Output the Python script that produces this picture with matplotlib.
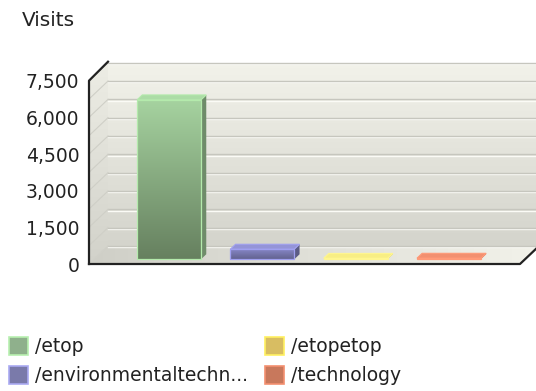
import matplotlib
matplotlib.use("Agg")
import matplotlib.pyplot as plt
import numpy as np
from matplotlib.colors import LinearSegmentedColormap
from matplotlib.patches import Polygon, Rectangle
from matplotlib.ticker import FuncFormatter

pages = ["/etop", "/environmentaltechn...", "/etopetop", "/technology"]
visits = [6520, 410, 35, 40]
y_ticks = [0, 1500, 3000, 4500, 6000, 7500]
grid_step = 750

# front-top, front-bottom, side, top, edge
bar_colors = [
    ("#a6d3a0", "#66805f", "#6f8c6a", "#acdca6", "#b4eaac"),
    ("#8a8acc", "#62628f", "#5b5b85", "#9494d8", "#a0a0f0"),
    ("#f8ec80", "#e6d66a", "#d8c860", "#f8ee84", "#fff690"),
    ("#f08a6a", "#e07858", "#c86a50", "#f29070", "#ff9a78"),
]
legend_fill = ["#8fb08c", "#7a7aaa", "#d8bd62", "#c8785c"]
legend_edge = ["#b8f0b0", "#aaaaf2", "#fff060", "#f49070"]

W, H = 536, 391
fig = plt.figure(figsize=(W / 100, H / 100), dpi=100)
fig.patch.set_facecolor("white")
ax = fig.add_axes([89 / W, (H - 264) / H, (520 - 89) / W, 183.3 / H])
ax.set_facecolor("none")
for s in ax.spines.values():
    s.set_visible(False)

XMIN, XMAX = -0.804, 3.816
YMAX = y_ticks[-1]
ax.set_xlim(XMIN, XMAX)
ax.set_ylim(0, YMAX)
ax.set_autoscale_on(False)

# pixel size of one data unit, used for the pseudo-3D depth offset
p0 = ax.transData.transform((0, 0))
p1 = ax.transData.transform((1, 1))
ppx, ppy = p1[0] - p0[0], p1[1] - p0[1]
DX, DY = 19 / ppx, 18 / ppy


def P(x, y, d):
    return (x + d * DX, y + d * DY)


def grad_poly(pts, c_lo, c_hi, horizontal=False, z=1):
    poly = Polygon(pts, closed=True, facecolor="none", edgecolor="none",
                   clip_on=False, zorder=z)
    ax.add_patch(poly)
    xs, ys = zip(*pts)
    g = np.linspace(0, 1, 256)
    arr = g.reshape(1, -1) if horizontal else g.reshape(-1, 1)
    cmap = LinearSegmentedColormap.from_list("g", [c_lo, c_hi])
    im = ax.imshow(arr, cmap=cmap, extent=(min(xs), max(xs), min(ys), max(ys)),
                   origin="lower", aspect="auto", interpolation="bilinear",
                   zorder=z)
    im.set_clip_box(fig.bbox)
    im.set_clip_path(poly)
    return poly


# back wall, left wall, floor
grad_poly([P(XMIN, 0, 1), P(XMAX + 1, 0, 1), P(XMAX + 1, YMAX, 1), P(XMIN, YMAX, 1)],
          "#d4d4cc", "#f2f2ea", z=1)
grad_poly([P(XMIN, 0, 0), P(XMIN, 0, 1), P(XMIN, YMAX, 1), P(XMIN, YMAX, 0)],
          "#d2d2ca", "#ededE5".lower(), z=1)
grad_poly([P(XMIN, 0, 0), P(XMAX, 0, 0), P(XMAX, 0, 1), P(XMIN, 0, 1)],
          "#cfcfc7", "#f2f2ea", horizontal=True, z=1)

# grid lines on the back and left walls
for v in range(0, YMAX + 1, grid_step):
    xa, ya = P(XMIN, v, 1)
    xb, yb = P(XMAX + 1, v, 1)
    off = 1.2 / ppy
    ax.plot([xa, xb], [ya - off, yb - off], color="#fbfbf6", lw=1.0,
            clip_on=False, zorder=2)
    ax.plot([xa, xb], [ya, yb], color="#c6c6be", lw=1.0, clip_on=False, zorder=2)
    xf, yf = P(XMIN, v, 0)
    ax.plot([xf, xa], [yf, ya], color="#cfcfc7", lw=0.8, clip_on=False, zorder=2)

# bars
w = 0.686
f0, f1 = 0.27, 0.54
for i, (v, cols) in enumerate(zip(visits, bar_colors)):
    c_top, c_bot, c_side, c_roof, c_edge = cols
    x0, x1 = i - w / 2, i + w / 2
    ax.add_patch(Polygon([P(x1, 0, f0), P(x1, 0, f1), P(x1, v, f1), P(x1, v, f0)],
                         facecolor=c_side, edgecolor="none", zorder=4, clip_on=False))
    ax.add_patch(Polygon([P(x0, v, f0), P(x1, v, f0), P(x1, v, f1), P(x0, v, f1)],
                         facecolor=c_roof, edgecolor=c_edge, lw=0.8, zorder=4,
                         clip_on=False))
    grad_poly([P(x0, 0, f0), P(x1, 0, f0), P(x1, v, f0), P(x0, v, f0)],
              c_bot, c_top, z=5)
    ax.add_patch(Polygon([P(x0, 0, f0), P(x1, 0, f0), P(x1, v, f0), P(x0, v, f0)],
                         facecolor="none", edgecolor=c_edge, lw=0.9, zorder=6,
                         clip_on=False))

# axis lines
ax.plot(*zip(P(XMIN, 0, 0), P(XMIN, YMAX, 0), P(XMIN, YMAX + 40, 1)),
        color="#222222", lw=1.6, clip_on=False, zorder=7)
ax.plot(*zip(P(XMIN, 0, 0), P(XMAX, 0, 0), P(XMAX, 0, 1)),
        color="#222222", lw=1.6, clip_on=False, zorder=7)

ax.set_xticks([])
ax.set_yticks(y_ticks)
ax.yaxis.set_major_formatter(FuncFormatter(lambda v, _: f"{int(v):,}"))
ax.tick_params(axis="y", length=0, pad=7, labelsize=13.5, labelcolor="#222222")

fig.text(22 / W, 1 - 20 / H, "Visits", fontsize=14.5, color="#222222",
         va="center", ha="left")

# legend, filled column by column
rows = [345.5, 374.5]
cols_x = [9, 265]
for k, label in enumerate(pages):
    cx = cols_x[k // 2]
    cy = rows[k % 2]
    fig.patches.append(Rectangle(((cx) / W, 1 - (cy + 9) / H), 19 / W, 18 / H,
                                 transform=fig.transFigure, facecolor=legend_fill[k],
                                 edgecolor=legend_edge[k], lw=1.2))
    fig.text((cx + 26) / W, 1 - (cy + 1) / H, label, fontsize=13.5,
             color="#222222", va="center", ha="left")

fig.savefig("out.png", dpi=100)
